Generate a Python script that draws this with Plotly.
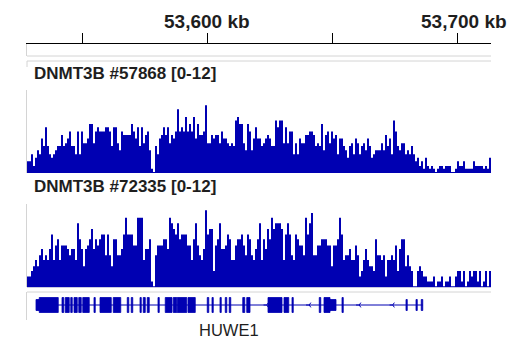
import plotly.graph_objects as go

# ---------------- data ----------------
X_START = 53528.0          # kb, left edge of the view
X_END = 53713.6            # kb, right edge of the view
BIN_KB = 0.8               # coverage bin width (kb)

track_names = ["DNMT3B #57868 [0-12]", "DNMT3B #72335 [0-12]"]
data_range = [0, 12]

track1 = [
    1.7, 1.7, 2.7, 1.0, 2.2, 3.3, 2.7, 5.0, 3.9, 6.6,
    3.9, 2.7, 2.2, 2.7, 3.3, 3.9, 3.9, 5.5, 3.9, 4.3,
    5.0, 6.0, 3.9, 3.9, 2.7, 6.0, 2.7, 6.0, 4.3, 4.3,
    5.0, 7.1, 7.1, 4.3, 6.0, 6.6, 6.0, 6.0, 6.0, 6.6,
    6.6, 6.0, 3.9, 6.6, 6.6, 4.3, 3.3, 6.0, 5.5, 5.5,
    5.5, 5.5, 7.1, 6.0, 5.0, 6.6, 3.9, 6.6, 4.3, 5.5,
    6.0, 3.3, 0.6, 0.15, 3.9, 2.7, 5.0, 5.5, 6.6, 5.5,
    6.6, 4.3, 5.5, 5.0, 6.0, 9.2, 6.0, 6.6, 6.0, 8.1,
    6.0, 7.1, 6.0, 8.1, 5.0, 7.1, 5.5, 5.5, 6.0, 9.8,
    4.3, 4.3, 5.5, 5.0, 5.5, 5.5, 4.3, 6.0, 5.0, 5.0,
    4.3, 3.9, 4.3, 3.9, 7.6, 8.1, 7.1, 7.1, 4.3, 3.3,
    7.1, 6.0, 3.3, 5.0, 6.6, 5.0, 5.0, 3.9, 4.3, 5.0,
    5.5, 5.0, 3.9, 3.9, 7.6, 6.6, 7.6, 7.6, 4.3, 6.6,
    4.3, 6.0, 6.0, 2.7, 4.3, 2.7, 5.0, 4.3, 4.3, 5.5,
    5.5, 6.0, 6.0, 5.5, 3.9, 4.3, 3.9, 7.1, 3.3, 5.5,
    6.0, 4.3, 6.0, 5.0, 5.5, 2.7, 5.0, 5.0, 3.9, 3.3,
    2.2, 3.9, 4.3, 2.7, 5.0, 4.3, 2.7, 3.9, 4.3, 3.3,
    5.0, 3.9, 2.2, 2.7, 3.3, 3.3, 3.3, 4.3, 3.3, 5.5,
    3.9, 5.0, 2.7, 7.6, 6.0, 3.9, 3.3, 4.3, 4.3, 2.7,
    3.3, 2.7, 3.9, 2.7, 1.7, 2.2, 1.0, 1.7, 0.6, 2.2,
    1.0, 0.6, 1.0, 0.6, 0.15, 0.6, 1.0, 1.0, 0.6, 1.0,
    1.0, 1.0, 0.15, 0.15, 0.6, 1.7, 1.0, 1.0, 1.7, 0.6,
    0.6, 0.6, 0.6, 1.7, 1.0, 1.0, 1.0, 1.0, 0.6, 1.0,
    0.6, 2.2,
]

track2 = [
    1.5, 1.5, 2.3, 3.0, 3.9, 3.0, 4.6, 5.5, 3.9, 4.6,
    3.9, 5.5, 7.6, 3.9, 6.0, 6.9, 3.9, 6.0, 6.0, 6.0,
    5.5, 4.6, 5.5, 5.5, 3.9, 9.2, 6.9, 5.5, 3.0, 5.5,
    6.0, 6.9, 8.4, 5.5, 6.9, 6.0, 6.9, 7.6, 7.6, 4.6,
    7.6, 4.6, 3.0, 6.9, 6.9, 4.6, 4.6, 5.5, 7.6, 10.0,
    7.6, 7.6, 7.6, 6.0, 6.0, 10.0, 10.0, 10.0, 3.9, 5.5,
    5.5, 6.9, 0.8, 0.1, 4.6, 6.0, 6.0, 6.0, 6.9, 6.9,
    5.5, 10.0, 9.2, 8.4, 7.6, 9.2, 6.9, 7.6, 7.6, 7.6,
    6.0, 6.0, 3.9, 6.9, 9.2, 6.0, 4.6, 3.9, 5.5, 11.1,
    7.6, 8.4, 8.4, 2.3, 6.0, 6.9, 9.2, 5.5, 5.5, 6.0,
    7.6, 6.9, 3.9, 3.9, 6.0, 6.9, 6.9, 7.6, 6.0, 4.6,
    7.6, 6.9, 4.6, 3.9, 5.5, 6.9, 9.2, 3.9, 6.9, 5.5,
    8.4, 6.9, 10.0, 8.4, 9.2, 9.2, 9.2, 8.4, 3.9, 7.6,
    9.2, 7.6, 4.6, 3.9, 7.6, 6.9, 6.0, 6.0, 4.6, 10.0,
    7.6, 9.2, 10.7, 4.6, 4.6, 6.0, 6.0, 6.9, 6.9, 6.9,
    6.0, 6.0, 3.0, 6.0, 6.0, 6.9, 10.0, 7.6, 3.9, 4.6,
    4.6, 5.5, 3.9, 3.9, 6.0, 4.6, 1.5, 2.3, 3.9, 5.5,
    3.9, 3.0, 3.0, 2.3, 6.9, 4.6, 4.6, 3.9, 4.6, 1.5,
    3.9, 3.9, 4.6, 3.9, 6.0, 2.3, 5.5, 6.9, 6.9, 3.0,
    4.6, 3.0, 2.3, 0.1, 0.1, 2.3, 3.0, 2.3, 1.5, 1.5,
    0.8, 0.8, 0.8, 1.5, 0.1, 0.8, 0.8, 1.5, 0.1, 0.8,
    0.8, 1.5, 0.1, 0.1, 1.5, 2.3, 2.3, 0.8, 2.3, 0.1,
    0.8, 2.3, 1.5, 2.3, 2.3, 0.8, 2.3, 0.1, 0.8, 2.3,
    0.1, 2.3,
]

# ruler
ruler_ticks = [53550, 53600, 53650, 53700]
ruler_labels = ["", "53,600 kb", "", "53,700 kb"]

# gene model (HUWE1, minus strand), kb
gene_name = "HUWE1"
gene_start = 53531.6
gene_end = 53686.3
exon_start = [53531.6, 53532.9, 53542.0, 53543.3, 53545.5, 53546.8, 53548.7, 53550.3,
              53554.8, 53557.2, 53562.5, 53568.1, 53569.7, 53573.2, 53574.5, 53576.1,
              53580.4, 53583.3, 53586.5, 53588.1, 53592.4, 53600.1, 53602.0, 53605.2,
              53607.3, 53608.9, 53614.3, 53615.9, 53624.4, 53630.8, 53634.0, 53644.9,
              53646.8, 53649.2, 53654.0, 53679.6, 53683.6, 53685.7]
exon_end = [53532.9, 53540.5, 53542.7, 53544.9, 53546.1, 53548.1, 53549.7, 53552.9,
            53555.3, 53561.7, 53565.5, 53568.7, 53570.3, 53573.7, 53575.3, 53576.9,
            53580.9, 53586.0, 53587.9, 53591.9, 53595.3, 53600.7, 53602.5, 53605.7,
            53607.9, 53609.5, 53615.1, 53617.2, 53630.0, 53632.7, 53634.5, 53645.5,
            53649.2, 53651.6, 53654.5, 53680.1, 53684.1, 53686.3]
exon_type = ["utr"] + ["cds"] * 32 + ["utr", "cds", "utr", "utr", "utr"]
strand_marks = [53623.9, 53640.9, 53660.9, 53674.3]

# ---------------- styling ----------------
W, H = 520, 350
BLUE = "rgb(0,0,178)"
GRAY = "#d4d4d4"
TXT = "#1e1e1e"
L, R = 27, 491


def yf(px):
    return 1 - px / H


def xf(px):
    return (px - L) / (R - L)


fig = go.Figure()

# coverage tracks (step fill)
edges = [X_START + BIN_KB * i for i in range(len(track1) + 1)]
for vals, ya in ((track1, "y"), (track2, "y2")):
    fig.add_trace(go.Scatter(
        x=edges, y=list(vals) + [vals[-1]], mode="lines", line=dict(width=0, shape="hv", color=BLUE),
        fill="tozeroy", fillcolor=BLUE, xaxis="x", yaxis=ya, hoverinfo="skip", showlegend=False))

# gene: intron line
fig.add_trace(go.Scatter(x=[gene_start, gene_end], y=[0, 0], mode="lines",
                         line=dict(color=BLUE, width=1), xaxis="x", yaxis="y3",
                         hoverinfo="skip", showlegend=False))
# gene: exons
ex, ey = [], []
for s, e, t in zip(exon_start, exon_end, exon_type):
    h = 7.5 if t == "cds" else 5.5
    ex += [s, e, e, s, s, None]
    ey += [-h, -h, h, h, -h, None]
fig.add_trace(go.Scatter(x=ex, y=ey, mode="lines", fill="toself", fillcolor=BLUE,
                         line=dict(color=BLUE, width=0.8), xaxis="x", yaxis="y3",
                         hoverinfo="skip", showlegend=False))
# gene: strand chevrons
fig.add_trace(go.Scatter(x=strand_marks, y=[0] * len(strand_marks), mode="markers",
                         marker=dict(symbol="y-left", size=4, line=dict(color=BLUE, width=1)),
                         xaxis="x", yaxis="y3", hoverinfo="skip", showlegend=False))
# ruler subplot holder (invisible)
fig.add_trace(go.Scatter(x=[X_START], y=[0], mode="markers", marker=dict(opacity=0),
                         xaxis="x", yaxis="y4", hoverinfo="skip", showlegend=False))

ybase = dict(showgrid=False, zeroline=False, showticklabels=False, ticks="",
             showline=True, linecolor=GRAY, linewidth=1, fixedrange=True)

fig.update_layout(
    width=W, height=H,
    margin=dict(l=L, r=W - R, t=0, b=0),
    paper_bgcolor="white", plot_bgcolor="white",
    showlegend=False,
    xaxis=dict(domain=[0, 1], range=[X_START, X_END], anchor="y4", side="top",
               showline=True, linecolor="black", linewidth=1,
               ticks="outside", ticklen=10, tickwidth=1, tickcolor="black",
               tickvals=ruler_ticks, showticklabels=False,
               showgrid=False, zeroline=False, fixedrange=True),
    yaxis=dict(domain=[yf(173), yf(90)], range=data_range, **ybase),
    yaxis2=dict(domain=[yf(287), yf(204)], range=data_range, **ybase),
    yaxis3=dict(domain=[yf(320), yf(292)], range=[-15, 13], **ybase),
    yaxis4=dict(domain=[yf(56), yf(44)], range=[0, 1], **ybase),
)

# decorative panel separators
for py in (56, 61, 292):
    fig.add_shape(type="line", xref="paper", yref="paper", x0=0, x1=1, y0=yf(py), y1=yf(py),
                  line=dict(color=GRAY, width=1))
fig.add_shape(type="line", xref="paper", yref="paper", x0=0, x1=0, y0=yf(61), y1=yf(67),
              line=dict(color=GRAY, width=1))
fig.add_shape(type="line", xref="paper", yref="paper", x0=0, x1=1, y0=yf(287.5), y1=yf(287.5),
              line=dict(color="#c8c8e0", width=1))

# ruler labels
for v, t in zip(ruler_ticks, ruler_labels):
    if not t:
        continue
    fig.add_annotation(x=v, xref="x", y=yf(21), yref="paper", text=t, showarrow=False,
                       xanchor="center", yanchor="middle", xshift=7 if v == ruler_ticks[-1] else 0,
                       font=dict(family="Liberation Sans, Arial", size=19, color=TXT, weight=700))

# track labels
for name, py in zip(track_names, (73.5, 186.5)):
    fig.add_annotation(x=xf(32), xref="paper", y=yf(py), yref="paper", text=name, showarrow=False,
                       xanchor="left", yanchor="middle",
                       font=dict(family="Liberation Sans, Arial", size=17, color=TXT, weight=700))

# gene label
fig.add_annotation(x=(gene_start + gene_end) / 2, xref="x", y=yf(330), yref="paper", text=gene_name,
                   showarrow=False, xanchor="center", yanchor="middle",
                   font=dict(family="Liberation Sans, Arial", size=16.5, color=TXT))

fig.write_html("out.html")
